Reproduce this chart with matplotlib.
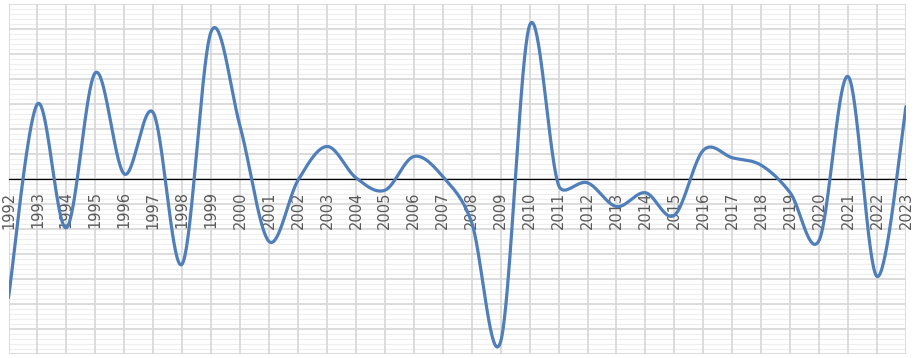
import numpy as np
import matplotlib
matplotlib.use("Agg")
import matplotlib.pyplot as plt

years = [str(y) for y in range(1992, 2024)]
values = [-9.5, 6.0, -3.9, 8.5, 0.4, 5.3, -6.8, 11.8, 4.2, -5.0, -0.1, 2.6,
          0.1, -0.9, 1.8, 0.2, -3.5, -13.0, 12.3, -0.5, -0.3, -2.2, -1.1, -2.9,
          2.3, 1.7, 1.1, -1.1, -4.9, 8.2, -7.8, 5.8]

PX_X = 28.95   # pixels per category
PX_Y = 12.5    # pixels per value unit


def smooth(xs, ys, n=40):
    """Excel-like smoothed line (Bezier with limited handles)."""
    P = np.column_stack([np.asarray(xs, float) * PX_X, np.asarray(ys, float) * PX_Y])
    m = len(P)
    t = np.linspace(0, 1, n)
    out = []
    for i in range(m - 1):
        p0 = P[i - 1] if i > 0 else P[i]
        p1 = P[i]
        p2 = P[i + 1]
        p3 = P[i + 2] if i + 2 < m else P[i + 1]
        d12 = np.linalg.norm(p2 - p1)
        d02 = np.linalg.norm(p2 - p0)
        d13 = np.linalg.norm(p3 - p1)
        f = 1 / 6.0
        if d02 > 0 and d02 * f > d12 / 2:
            f = d12 / 2 / d02
        g = 1 / 6.0
        if d13 > 0 and d13 * g > d12 / 2:
            g = d12 / 2 / d13
        c1 = p1 + (p2 - p0) * f
        c2 = p2 - (p3 - p1) * g
        b = ((1 - t) ** 3)[:, None] * p1 + (3 * (1 - t) ** 2 * t)[:, None] * c1 \
            + (3 * (1 - t) * t ** 2)[:, None] * c2 + (t ** 3)[:, None] * p2
        out.append(b)
    out = np.vstack(out)
    return out[:, 0] / PX_X, out[:, 1] / PX_Y


fig = plt.figure(figsize=(9.15, 3.58), dpi=100)
ax = fig.add_axes([8.5 / 915, 1 - 354 / 358, (906 - 8.5) / 915, 350 / 358])

x = np.arange(len(years))
sx, sy = smooth(x, values)

ax.set_xlim(0, len(years) - 1)
ax.set_ylim(-14, 14)

# gridlines
for yv in np.arange(-14, 14.01, 0.4):
    if abs(round(yv / 2) * 2 - yv) > 1e-6:
        ax.axhline(yv, color="#eeeeee", lw=0.8, zorder=0)
for yv in np.arange(-14, 14.01, 2):
    ax.axhline(yv, color="#d9d9d9", lw=1.3, zorder=1)
for xv in x:
    ax.axvline(xv, color="#d9d9d9", lw=1.3, zorder=1)

ax.plot(sx, sy, color="#4f7fbb", lw=2.3, zorder=4, solid_capstyle="round")

for s in ["top", "right", "left"]:
    ax.spines[s].set_visible(False)
ax.spines["bottom"].set_position(("data", 0))
ax.spines["bottom"].set_color("black")
ax.spines["bottom"].set_linewidth(0.9)
ax.spines["bottom"].set_zorder(3)

ax.set_yticks([])
ax.set_xticks(x)
ax.set_xticklabels(years, rotation=90, fontsize=10.5, color="#595959",
                   family="DejaVu Sans")
ax.tick_params(axis="x", length=0, pad=9)

fig.savefig("out.png", dpi=100, facecolor="white")
